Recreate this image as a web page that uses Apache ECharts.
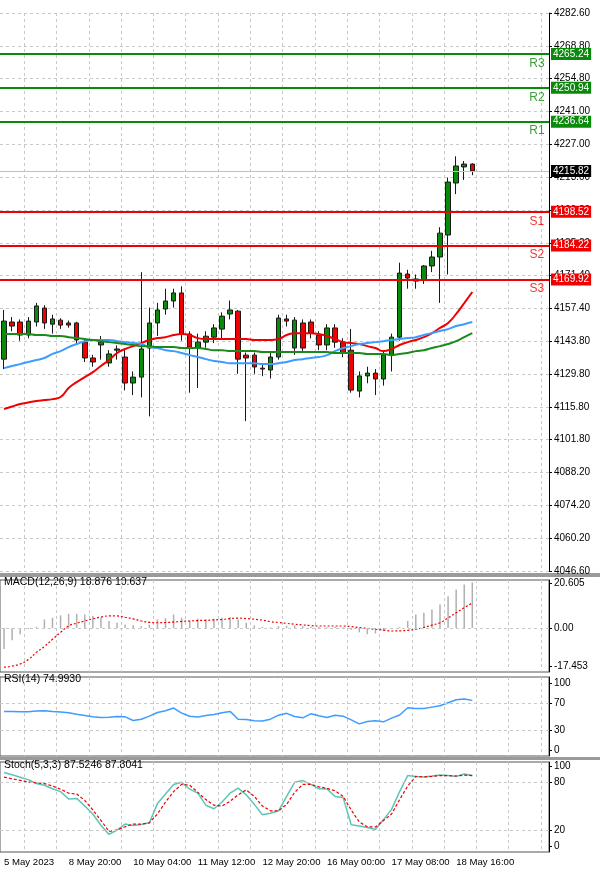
<!DOCTYPE html>
<html>
<head>
<meta charset="utf-8">
<script src="https://cdn.jsdelivr.net/npm/echarts@6/dist/echarts.min.js"></script>
<style>html,body{margin:0;padding:0;background:#fff}#chart{width:600px;height:871px}</style>
</head>
<body>
<div id="chart"></div>
<script>
var N = 68
// candles: [open, close, low, high]
var candles = [
    [4136.2,4152.3,4132,4157],[4151.9,4150.2,4148,4154],[4151.9,4146.4,4144,4153],[4146.4,4152.3,4145,4154],
    [4151.9,4158.7,4150,4160],[4157.8,4151.5,4149,4159],[4151.0,4153.2,4147,4155],[4152.7,4150.6,4149,4153.5],
    [4151.5,4150.6,4149.5,4152.5],[4151.5,4144.3,4143,4152],[4143.4,4136.7,4135,4145],[4136.7,4135.0,4133,4138],
    [4142.2,4143.4,4136,4146],[4134.6,4138.4,4133,4140],[4140,4140.5,4136,4142],[4137.1,4126.1,4123,4140],
    [4126.1,4128.6,4121,4131],[4128.6,4140.5,4120,4173],[4140.9,4151.5,4112,4158],[4151.5,4157.0,4146,4160],
    [4157.4,4160.8,4155,4166],[4160.8,4164.2,4158,4166],[4164.2,4146.8,4144,4167],[4146.8,4141.3,4122,4148],
    [4140.9,4143.4,4124,4147],[4143.4,4145.9,4141,4148],[4145.5,4149.4,4143,4151],[4148.9,4154.4,4145,4156],
    [4155.3,4157.0,4153,4161],[4156.5,4136.2,4130,4157],[4137.9,4136.7,4110,4139],[4137.9,4132.9,4130,4139],
    [4132.4,4132.0,4129,4134],[4131.6,4137.1,4128,4139],[4137.1,4153.6,4136,4155],[4153.2,4152.3,4150,4155],
    [4140.9,4152.7,4138,4154],[4151.5,4140.9,4139,4153],[4151.9,4147.2,4145,4153],[4146.4,4142.2,4140,4148],
    [4142.2,4149.4,4140,4151],[4149.4,4143.4,4141,4151],[4143.4,4138.8,4137,4145],[4140.0,4123.1,4122,4149],
    [4122.7,4129.1,4120,4131],[4129.1,4130.3,4126,4133],[4130.3,4127.8,4121,4132],[4127.8,4137.9,4125,4140],
    [4137.9,4145.5,4131,4147],[4145.5,4172.6,4144,4177],[4172.2,4170.5,4166,4174],[4170.1,4169.2,4166,4172],
    [4169.7,4175.6,4168,4176],[4175.6,4179.4,4173,4182],[4179.4,4189.5,4160,4192],[4188.7,4211.1,4172,4213],
    [4210.7,4217.9,4206,4222],[4217.5,4218.7,4212,4220],[4218.7,4215.8,4214,4219]
]
var maRed = [4115.1,4116.2,4117.2,4117.9,4118.5,4118.9,4119.3,4120.2,4124.0,4126.5,4128.6,4130.7,4133.3,4135.8,
    4138.8,4140.5,4141.7,4143.0,4144.3,4145.1,4145.5,4146.4,4146.8,4146.4,4145.1,4144.7,4144.7,4144.7,4144.7,
    4144.7,4144.7,4144.3,4144.3,4144.3,4144.7,4146.4,4147.2,4147.2,4147.2,4146.8,4146.0,4144.7,4143.4,4143.0,
    4142.6,4141.7,4140.9,4139.6,4140.5,4142.2,4143.4,4144.3,4145.5,4147.2,4149.4,4151.5,4155.3,4159.9,4164.6]
var maBlue = [4132.4,4133.3,4134.1,4135.0,4135.8,4136.7,4138.4,4139.6,4141.3,4142.6,4143.8,4144.3,4144.3,4144.3,
    4143.8,4143.4,4143.0,4142.6,4141.3,4140.9,4140.0,4139.6,4138.8,4137.9,4137.1,4136.2,4135.4,4135.0,4134.5,
    4134.5,4134.5,4134.5,4134.1,4134.1,4134.5,4135.0,4135.8,4136.2,4136.7,4137.1,4137.9,4139.6,4140.9,4141.7,
    4142.6,4143.0,4143.4,4143.8,4144.3,4144.7,4145.1,4145.5,4146.4,4147.2,4148.1,4148.9,4150.2,4151.0,4151.9]
var maGreen = [4146.8,4146.8,4146.8,4146.8,4146.4,4146.4,4146.0,4146.0,4145.5,4145.1,4144.7,4144.3,4143.8,4143.4,
    4143.0,4142.6,4142.2,4141.7,4141.7,4141.3,4141.3,4141.3,4140.9,4140.9,4140.9,4140.5,4140.0,4140.0,4139.6,
    4139.6,4139.6,4139.6,4139.2,4139.2,4139.2,4139.2,4139.2,4139.2,4139.2,4139.2,4139.2,4138.8,4138.8,4138.8,
    4138.8,4138.4,4138.4,4138.4,4137.9,4138.4,4138.8,4139.6,4140.0,4140.9,4141.7,4142.6,4143.8,4145.5,4147.2]
var macdHist = [-9.7,-5.6,-2.9,-0.5,0.5,3.9,4.7,5.8,6.5,6.5,6.2,5.5,4.7,3.2,2.4,1.6,1.2,0.8,1.5,3.9,4.5,6.2,4.7,
    3.2,4.2,3.9,4.2,4.7,5.0,3.9,2.4,1.2,0.5,0.3,0.8,1.0,1.2,0.8,0.5,0.5,0.3,0.5,0.2,-0.8,-2.0,-2.9,-2.5,-1.5,
    -0.5,0.5,3.2,6.2,7.0,8.5,10.8,14.5,17.6,19.9,20.9]
var macdSignal = [-18,-17.5,-16.5,-14.5,-11.2,-8.5,-5.2,-2.0,0.9,2.2,3.2,4.2,5.0,5.5,5.5,4.9,4.2,3.2,2.6,2.4,2.5,
    2.7,3.0,3.2,3.4,3.5,3.7,3.9,4.3,4.5,4.3,4.0,3.6,2.9,2.5,2.1,1.7,1.4,1.1,0.9,0.9,0.9,0.9,0.6,0.2,-0.2,-0.6,
    -1.0,-1.4,-1.3,-1.1,-0.6,0.2,1.3,2.4,4.6,7.0,9.3,11.5]
var rsi = [57.6,57.4,57.2,57.2,58.1,58.5,57.5,56.8,55.6,53.5,51.5,49.5,48.5,48.8,50.0,49.5,44.0,46.0,50.5,56.0,
    58.5,62.6,55.0,50.4,49.4,51.5,53.0,55.6,57.6,46.0,45.4,43.8,43.3,46.0,52.0,54.7,50.0,48.0,54.0,51.0,48.5,
    52.0,50.5,45.0,39.0,42.5,43.5,42.0,47.5,52.3,63.0,62.0,61.8,64.0,66.0,70.5,75.0,76.2,74.1]
var stochK = [91.8,89,86,83,78,76,71.5,68,58.7,59.5,50,40,26,14.5,20,27.4,25.5,27,29,53,65,77,79.6,71,66,51,
    46.5,55,66,72.3,64,52,39,41,44,62,79.6,81.8,77,71.5,71.3,62,60.5,26.6,25,23,20.7,33,45.8,68,88,87,86.3,87.5,
    88.8,88,87,90,88]
var stochD = [86,84,82,80,79,78,75,71,66,65,57,45,32,18.2,20,24,27.4,27.4,29,40,55,68,77,76,67,58,51,50,56,64,
    70,62,50,44,44,52,67,77,77,74,72,69,62,45,30,24,23.7,31.8,40,58,75,87,86.5,87,88,88,87.5,88.5,88]
var priceTicks = ['4046.60','4060.20','4074.20','4088.20','4101.80','4115.80','4129.80','4143.80','4157.40',
    '4171.40','4185.20','4199.20','4213.00','4227.00','4241.00','4254.80','4268.80','4282.60']
var timeLabels = {0: '5 May 2023', 8: '8 May 20:00', 16: '10 May 04:00', 24: '11 May 12:00',
    32: '12 May 20:00', 40: '16 May 00:00', 48: '17 May 08:00', 56: '18 May 16:00'}
var resist = [['R1', 4236.64], ['R2', 4250.94], ['R3', 4265.24]]
var support = [['S1', 4198.52], ['S2', 4184.22], ['S3', 4169.92]]
var lastPrice = 4215.82

var cats = []
for (var i = 0; i < N; i++) cats.push(i)

var font = 'Liberation Sans'
var dash = { show: true, lineStyle: { type: [3, 3], color: '#c8c8c8' } }
function vSplit(i) { return i % 4 === 3 }

function xAxis(grid, showLabel) {
    return {
        type: 'category', gridIndex: grid, data: cats, boundaryGap: true,
        axisLine: { show: false }, axisTick: { show: false },
        splitLine: { show: true, interval: function(i) { return vSplit(i) }, lineStyle: dash.lineStyle },
        axisLabel: showLabel ? {
            interval: 0, align: 'left', margin: 5, color: '#000', fontFamily: font, fontSize: 9.6,
            formatter: function(v, i) { return timeLabels[i] || '' }
        } : { show: false }
    }
}

function levelLines(list, color) {
    return list.map(function(l) {
        return {
            yAxis: l[1],
            lineStyle: { color: color, width: 2, type: 'solid' },
            label: {
                show: true, position: 'end', formatter: l[1].toFixed(2), color: '#fff',
                backgroundColor: color, padding: [1, 2], fontFamily: font, fontSize: 10, distance: 2
            }
        }
    })
}
function levelNames(list, color) {
    return list.map(function(l) {
        return {
            value: [66, l[1]],
            label: { show: true, position: 'bottom', distance: 3, formatter: l[0], color: color, fontFamily: font, fontSize: 12 }
        }
    })
}

var chart = echarts.init(document.getElementById('chart'))
chart.setOption({
    animation: false,
    grid: [
        { left: 0, right: 51, top: 13, bottom: 300 },
        { left: 0, right: 51, top: 580, bottom: 199, show: true, borderColor: '#555', borderWidth: 1 },
        { left: 0, right: 51, top: 677, bottom: 115, show: true, borderColor: '#555', borderWidth: 1 },
        { left: 0, right: 51, top: 762, bottom: 19, show: true, borderColor: '#555', borderWidth: 1 }
    ],
    xAxis: [xAxis(0, false), xAxis(1, false), xAxis(2, false), xAxis(3, true)],
    yAxis: [
        {
            gridIndex: 0, position: 'right', min: 4046.6, max: 4282.6, interval: 236 / 17,
            axisLine: { show: true, lineStyle: { color: '#000' } }, axisTick: { show: true, length: 3 },
            splitLine: dash,
            axisLabel: {
                color: '#000', fontFamily: font, fontSize: 10, margin: 5,
                formatter: function(v) { return priceTicks[Math.round((v - 4046.6) / (236 / 17))] }
            }
        },
        {
            gridIndex: 1, position: 'right', min: -20.2, max: 22,
            axisLine: { show: true, lineStyle: { color: '#000' } },
            axisTick: { show: true, length: 3, customValues: [-17.453, 0, 20.605] },
            splitLine: { show: false },
            axisLabel: {
                color: '#000', fontFamily: font, fontSize: 10, margin: 5, customValues: [-17.453, 0, 20.605],
                formatter: function(v) { return v === 0 ? '0.00' : String(v) }
            }
        },
        {
            gridIndex: 2, position: 'right', min: -9, max: 109,
            axisLine: { show: true, lineStyle: { color: '#000' } },
            axisTick: { show: true, length: 3, customValues: [0, 30, 70, 100] },
            splitLine: { show: false },
            axisLabel: { color: '#000', fontFamily: font, fontSize: 10, margin: 5, customValues: [0, 30, 70, 100] }
        },
        {
            gridIndex: 3, position: 'right', min: -7.5, max: 105,
            axisLine: { show: true, lineStyle: { color: '#000' } },
            axisTick: { show: true, length: 3, customValues: [0, 20, 80, 100] },
            splitLine: { show: false },
            axisLabel: { color: '#000', fontFamily: font, fontSize: 10, margin: 5, customValues: [0, 20, 80, 100] }
        }
    ],
    series: [
        {
            type: 'candlestick', xAxisIndex: 0, yAxisIndex: 0, data: candles, barWidth: 5,
            itemStyle: { color: '#0a8a0a', color0: '#f00000', borderColor: '#1a1a1a', borderColor0: '#1a1a1a', borderWidth: 1 },
            markLine: {
                symbol: 'none', silent: true,
                data: levelLines(resist, '#0a8a0a').concat(levelLines(support, '#f00000')).concat([{
                    yAxis: lastPrice, lineStyle: { color: '#c0c0c0', width: 1, type: 'solid' },
                    label: { show: true, position: 'end', formatter: lastPrice.toFixed(2), color: '#fff',
                        backgroundColor: '#000', padding: [1, 2], fontFamily: font, fontSize: 10, distance: 2 }
                }])
            }
        },
        {
            type: 'scatter', xAxisIndex: 0, yAxisIndex: 0, symbolSize: 1, silent: true,
            itemStyle: { color: 'rgba(0,0,0,0)' },
            data: levelNames(resist, '#0a8a0a').concat(levelNames(support, '#f00000'))
        },
        { type: 'line', xAxisIndex: 0, yAxisIndex: 0, data: maRed, showSymbol: false, smooth: true, lineStyle: { color: '#f00000', width: 2 } },
        { type: 'line', xAxisIndex: 0, yAxisIndex: 0, data: maBlue, showSymbol: false, smooth: true, lineStyle: { color: '#3c9cff', width: 2 } },
        { type: 'line', xAxisIndex: 0, yAxisIndex: 0, data: maGreen, showSymbol: false, smooth: true, lineStyle: { color: '#1a8a1a', width: 2 } },
        {
            type: 'bar', xAxisIndex: 1, yAxisIndex: 1, data: macdHist, barWidth: 1.5, itemStyle: { color: '#b0b0b0' },
            markLine: { symbol: 'none', silent: true, label: { show: false },
                data: [{ yAxis: 0, lineStyle: { color: '#c8c8c8', type: [3, 3], width: 1 } }] }
        },
        { type: 'line', xAxisIndex: 1, yAxisIndex: 1, data: macdSignal, showSymbol: false, smooth: true, lineStyle: { color: '#f00000', width: 1.2, type: [2, 2] } },
        {
            type: 'line', xAxisIndex: 2, yAxisIndex: 2, data: rsi, showSymbol: false, lineStyle: { color: '#3c9cff', width: 1.5 },
            markLine: { symbol: 'none', silent: true, label: { show: false },
                lineStyle: { color: '#c8c8c8', type: [3, 3], width: 1 }, data: [{ yAxis: 70 }, { yAxis: 30 }] }
        },
        {
            type: 'line', xAxisIndex: 3, yAxisIndex: 3, data: stochK, showSymbol: false, lineStyle: { color: '#5cc6b8', width: 1.5 },
            markLine: { symbol: 'none', silent: true, label: { show: false },
                lineStyle: { color: '#c8c8c8', type: [3, 3], width: 1 }, data: [{ yAxis: 80 }, { yAxis: 20 }] }
        },
        { type: 'line', xAxisIndex: 3, yAxisIndex: 3, data: stochD, showSymbol: false, lineStyle: { color: '#f00000', width: 1.2, type: [3, 2] } }
    ],
    graphic: [
        { type: 'rect', shape: { x: 0, y: 573, width: 600, height: 4 }, style: { fill: '#9a9a9a' } },
        { type: 'rect', shape: { x: 0, y: 757, width: 600, height: 3 }, style: { fill: '#9a9a9a' } },
        { type: 'text', left: 4, top: 577, style: { text: 'MACD(12,26,9) 18.876 10.637', fontFamily: font, fontSize: 10.5, fill: '#000' } },
        { type: 'text', left: 4, top: 674, style: { text: 'RSI(14) 74.9930', fontFamily: font, fontSize: 10.5, fill: '#000' } },
        { type: 'text', left: 4, top: 760, style: { text: 'Stoch(5,3,3) 87.5246 87.8041', fontFamily: font, fontSize: 10.5, fill: '#000' } }
    ]
})
</script>
</body>
</html>
